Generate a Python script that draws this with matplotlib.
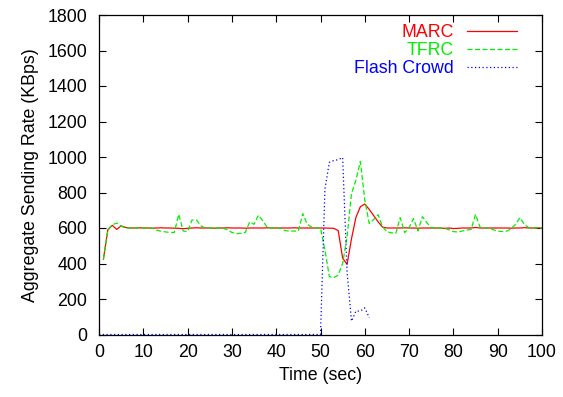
import numpy as np
import matplotlib.pyplot as plt

# =========================
# Data
# =========================
time = list(range(1, 101))

marc = [425, 590, 615, 592, 612, 603, 600, 600, 601, 600,
        600, 599, 600, 601, 600, 600, 599, 598, 596, 598,
        600, 601, 600, 600, 600, 599, 600, 600, 601, 600,
        600, 600, 599, 600, 600, 600, 600, 601, 600, 600,
        600, 600, 600, 601, 600, 600, 600, 600, 600, 600,
        600, 599, 598, 585, 430, 395, 540, 660, 720, 735,
        705, 670, 635, 605, 600, 600, 600, 600, 601, 600,
        600, 599, 600, 600, 600, 600, 600, 598, 600, 597,
        598, 600, 600, 600, 603, 600, 600, 600, 600, 600,
        600, 600, 599, 600, 600, 602, 600, 600, 600, 600]

tfrc = [425, 590, 618, 628, 610, 600, 600, 600, 600, 600,
        598, 600, 588, 582, 578, 575, 575, 677, 583, 580,
        645, 645, 612, 600, 600, 600, 600, 598, 590, 575,
        568, 570, 574, 634, 621, 672, 640, 602, 600, 600,
        598, 585, 583, 583, 583, 681, 621, 605, 600, 600,
        476, 326, 320, 335, 400, 551, 795, 870, 975, 758,
        625, 648, 675, 607, 579, 573, 570, 658, 574, 602,
        653, 583, 664, 630, 602, 600, 600, 598, 590, 580,
        577, 583, 588, 592, 677, 605, 600, 600, 590, 583,
        580, 582, 595, 620, 658, 621, 602, 600, 600, 600]

flash_time = list(range(0, 62))
flash = [0] * 51 + [820, 970, 980, 985, 997, 350, 75, 132, 132, 150, 94]

# =========================
# Plot
# =========================
plt.rcParams['font.family'] = ['Liberation Sans', 'DejaVu Sans']
plt.rcParams['font.size'] = 12.8

fig = plt.figure(figsize=(5.63, 3.97), dpi=100)
ax = fig.add_axes([99 / 563, 1 - 334.5 / 397, 443 / 563, 319.5 / 397])

ax.plot(time, marc, color='#ff0000', lw=0.9, label='MARC')
ax.plot(time, tfrc, color='#00f000', lw=0.9, dashes=(4, 2), label='TFRC')
ax.plot(flash_time, flash, color='#0000ff', lw=0.9, dashes=(1, 2), label='Flash Crowd')

ax.set_xlim(0, 100)
ax.set_ylim(0, 1800)
ax.set_xticks(range(0, 101, 10))
ax.set_yticks(range(0, 1801, 200))
ax.tick_params(direction='in', length=5, width=0.8, top=True, right=True)
ax.tick_params(axis='x', pad=7)
ax.tick_params(axis='y', pad=8.5)
for s in ax.spines.values():
    s.set_linewidth(0.9)

ax.set_xlabel("Time (sec)", labelpad=4)
ax.set_ylabel("Aggregate Sending Rate (KBps)", labelpad=6)

leg = ax.legend(loc='upper right', bbox_to_anchor=(0.944, 0.972), markerfirst=False,
                frameon=False, borderpad=0, borderaxespad=0, labelspacing=0.07,
                handlelength=2.8, handletextpad=0.75)
for txt, line in zip(leg.get_texts(), leg.get_lines()):
    txt.set_color(line.get_color())

fig.savefig('out.png', dpi=100)
